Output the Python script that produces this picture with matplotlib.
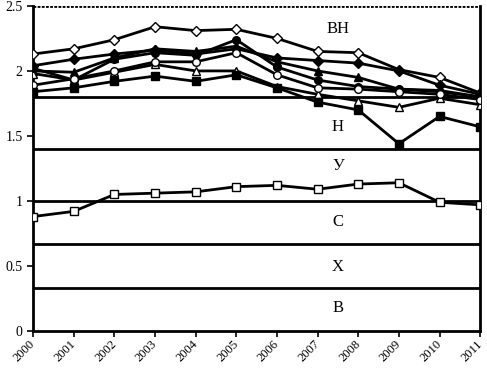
import matplotlib
matplotlib.use("Agg")
import matplotlib.pyplot as plt
import matplotlib.transforms as mtransforms

years = list(range(2000, 2012))

open_diamond = [2.13, 2.17, 2.24, 2.34, 2.31, 2.32, 2.25, 2.15, 2.14, 2.01, 1.95, 1.83]
filled_diamond = [2.04, 2.09, 2.13, 2.16, 2.13, 2.17, 2.10, 2.08, 2.06, 2.00, 1.89, 1.82]
filled_triangle = [2.00, 1.99, 2.10, 2.17, 2.15, 2.19, 2.07, 2.00, 1.95, 1.86, 1.85, 1.80]
open_triangle = [1.98, 1.93, 1.99, 2.05, 2.00, 2.00, 1.88, 1.82, 1.77, 1.72, 1.79, 1.74]
filled_circle = [2.02, 1.93, 2.09, 2.14, 2.12, 2.24, 2.03, 1.93, 1.88, 1.86, 1.84, 1.80]
open_circle = [1.89, 1.94, 2.00, 2.07, 2.07, 2.14, 1.97, 1.87, 1.86, 1.84, 1.82, 1.78]
filled_square = [1.84, 1.87, 1.92, 1.96, 1.92, 1.97, 1.87, 1.76, 1.70, 1.44, 1.65, 1.57]
open_square = [0.88, 0.92, 1.05, 1.06, 1.07, 1.11, 1.12, 1.09, 1.13, 1.14, 0.99, 0.97]

band_limits = [1.8, 1.4, 1.0, 0.667, 0.333]
band_labels = ["ВН", "Н", "У", "С", "Х", "В"]
band_label_y = [2.32, 1.57, 1.27, 0.84, 0.49, 0.18]

plt.rcParams['font.family'] = ['Liberation Serif', 'DejaVu Serif']

fig = plt.figure(figsize=(4.87, 3.69), dpi=100)
ax = fig.add_axes([0.068, 0.103, 0.918, 0.881])

for yv in band_limits:
    ax.axhline(yv, color='black', lw=2.0, zorder=1)

series = [
    (open_diamond, 'D', 'white'),
    (filled_diamond, 'D', 'black'),
    (filled_triangle, '^', 'black'),
    (open_triangle, '^', 'white'),
    (filled_circle, 'o', 'black'),
    (open_circle, 'o', 'white'),
    (filled_square, 's', 'black'),
    (open_square, 's', 'white'),
]
for vals, m, fc in series:
    ms = 4.8 if m == 'D' else 5.5
    ax.plot(years, vals, color='black', lw=2.0, marker=m, markersize=ms,
            markerfacecolor=fc, markeredgecolor='black', markeredgewidth=1.0, zorder=3)

for lab, yv in zip(band_labels, band_label_y):
    ax.text(2007.5, yv, lab, ha='center', va='center', fontsize=12, zorder=4)

ax.set_xlim(2000, 2011)
ax.set_ylim(0, 2.5)
ax.set_yticks([0, 0.5, 1, 1.5, 2, 2.5])
ax.set_yticklabels(["0", "0.5", "1", "1.5", "2", "2.5"], fontsize=10)
ax.set_xticks(years)
ax.set_xticklabels([])
offset = mtransforms.ScaledTranslation(-4 / 100, -7 / 100, fig.dpi_scale_trans)
trans = ax.get_xaxis_transform() + offset
for y in years:
    ax.text(y, 0, str(y), transform=trans, rotation=45, ha='right', va='top',
            rotation_mode='anchor', fontsize=9, clip_on=False)
ax.tick_params(axis='both', direction='out', length=4, width=1.2)
ax.axhline(2.5, color='black', lw=2.0, ls=(0, (1, 0.5)), zorder=1)
for s in ['left', 'right', 'bottom']:
    ax.spines[s].set_linewidth(2.0)
ax.spines['top'].set_visible(False)

fig.savefig("out.png", dpi=100)
